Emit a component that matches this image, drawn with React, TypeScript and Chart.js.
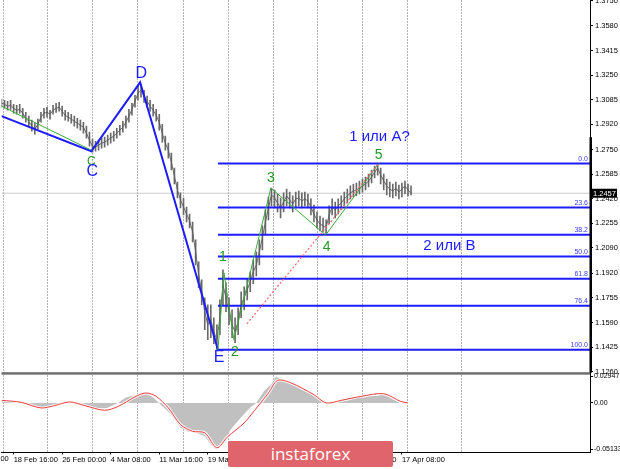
import React, { useEffect, useRef } from "react";
import { Chart, registerables } from "chart.js";
Chart.register(...registerables);

Chart.defaults.font.family = "'Liberation Sans', Arial, sans-serif";

// ---- price data (H4 bars, one sample every 2 bars) ----
const BAR_STEP = 2;
const X_MAX = 388;
const closes = [
  1.3061, 1.3054, 1.3041, 1.3047, 1.3027, 1.3014, 1.3020, 1.2994, 1.2960, 1.2940,
  1.2907, 1.2887, 1.2920, 1.2967, 1.2994, 1.3000, 1.2987, 1.3014, 1.3027, 1.3034,
  1.3007, 1.2980, 1.2967, 1.2954, 1.2940, 1.2927, 1.2913, 1.2900, 1.2860, 1.2813,
  1.2773, 1.2766, 1.2780, 1.2793, 1.2800, 1.2813, 1.2827, 1.2840, 1.2860, 1.2880,
  1.2900, 1.2933, 1.2974, 1.3020, 1.3074, 1.3128, 1.3148, 1.3108, 1.3074, 1.3041,
  1.3014, 1.2980, 1.2933, 1.2860, 1.2793, 1.2746, 1.2666, 1.2572, 1.2479, 1.2412,
  1.2365, 1.2318, 1.2271, 1.2198, 1.2064, 1.1910, 1.1796, 1.1662, 1.1575, 1.1608,
  1.1528, 1.1474, 1.1622, 1.1843, 1.1756, 1.1662, 1.1575, 1.1528, 1.1595, 1.1709,
  1.1756, 1.1809, 1.1863, 1.1930, 1.1976, 1.2064, 1.2158, 1.2264, 1.2358, 1.2445,
  1.2425, 1.2392, 1.2358, 1.2398, 1.2439, 1.2412, 1.2385, 1.2419, 1.2425, 1.2405,
  1.2419, 1.2405, 1.2365, 1.2318, 1.2278, 1.2251, 1.2238, 1.2224, 1.2311, 1.2365,
  1.2345, 1.2372, 1.2392, 1.2419, 1.2439, 1.2459, 1.2472, 1.2479, 1.2492, 1.2506,
  1.2519, 1.2539, 1.2566, 1.2599, 1.2626, 1.2579, 1.2539, 1.2506, 1.2485, 1.2472,
  1.2492, 1.2465, 1.2485, 1.2506, 1.2479, 1.2457,
];
const highs = [
  1.3088, 1.3081, 1.3074, 1.3081, 1.3054, 1.3047, 1.3054, 1.3027, 1.3000, 1.2974,
  1.2947, 1.2927, 1.2954, 1.3000, 1.3027, 1.3034, 1.3014, 1.3047, 1.3061, 1.3067,
  1.3041, 1.3014, 1.3000, 1.2987, 1.2974, 1.2960, 1.2947, 1.2933, 1.2907, 1.2867,
  1.2820, 1.2806, 1.2813, 1.2827, 1.2833, 1.2847, 1.2860, 1.2873, 1.2893, 1.2913,
  1.2940, 1.2974, 1.3020, 1.3061, 1.3114, 1.3175, 1.3188, 1.3148, 1.3108, 1.3081,
  1.3054, 1.3020, 1.2987, 1.2920, 1.2840, 1.2793, 1.2726, 1.2626, 1.2532, 1.2459,
  1.2425, 1.2365, 1.2318, 1.2264, 1.2144, 1.1997, 1.1876, 1.1756, 1.1709, 1.1709,
  1.1622, 1.1575, 1.1742, 1.1943, 1.1856, 1.1756, 1.1675, 1.1622, 1.1689, 1.1796,
  1.1829, 1.1883, 1.1930, 1.2010, 1.2064, 1.2144, 1.2238, 1.2345, 1.2432, 1.2492,
  1.2479, 1.2452, 1.2425, 1.2459, 1.2485, 1.2465, 1.2439, 1.2465, 1.2472, 1.2459,
  1.2465, 1.2452, 1.2419, 1.2378, 1.2331, 1.2304, 1.2291, 1.2278, 1.2372, 1.2419,
  1.2398, 1.2419, 1.2439, 1.2465, 1.2485, 1.2506, 1.2519, 1.2526, 1.2539, 1.2552,
  1.2566, 1.2586, 1.2613, 1.2640, 1.2656, 1.2626, 1.2586, 1.2552, 1.2532, 1.2519,
  1.2532, 1.2512, 1.2526, 1.2539, 1.2519, 1.2506,
];
const lows = [
  1.3034, 1.3027, 1.3014, 1.3020, 1.2994, 1.2987, 1.2994, 1.2960, 1.2933, 1.2907,
  1.2873, 1.2853, 1.2887, 1.2933, 1.2960, 1.2967, 1.2954, 1.2987, 1.3000, 1.3007,
  1.2974, 1.2947, 1.2940, 1.2927, 1.2907, 1.2893, 1.2880, 1.2860, 1.2827, 1.2773,
  1.2733, 1.2739, 1.2746, 1.2760, 1.2766, 1.2780, 1.2793, 1.2806, 1.2827, 1.2847,
  1.2867, 1.2893, 1.2933, 1.2980, 1.3034, 1.3081, 1.3101, 1.3067, 1.3034, 1.3007,
  1.2974, 1.2940, 1.2880, 1.2800, 1.2746, 1.2693, 1.2613, 1.2519, 1.2425, 1.2358,
  1.2311, 1.2264, 1.2224, 1.2131, 1.1976, 1.1823, 1.1709, 1.1541, 1.1474, 1.1488,
  1.1448, 1.1410, 1.1508, 1.1709, 1.1662, 1.1575, 1.1488, 1.1454, 1.1508, 1.1622,
  1.1675, 1.1742, 1.1796, 1.1850, 1.1903, 1.1976, 1.2077, 1.2178, 1.2278, 1.2372,
  1.2358, 1.2331, 1.2291, 1.2331, 1.2372, 1.2358, 1.2331, 1.2365, 1.2372, 1.2358,
  1.2372, 1.2358, 1.2311, 1.2264, 1.2224, 1.2204, 1.2198, 1.2184, 1.2251, 1.2311,
  1.2291, 1.2318, 1.2345, 1.2372, 1.2392, 1.2419, 1.2432, 1.2439, 1.2452, 1.2465,
  1.2479, 1.2499, 1.2526, 1.2559, 1.2579, 1.2519, 1.2479, 1.2445, 1.2432, 1.2425,
  1.2439, 1.2419, 1.2432, 1.2452, 1.2439, 1.2445,
];
const currentPrice = 1.2457;
const axisMarkTop = 1.2833;

// ---- axes ----
const priceMin = 1.12533;
const priceMax = 1.375;
const priceTicks = [1.1260, 1.1425, 1.1590, 1.1755, 1.1920, 1.2090, 1.2255, 1.2420,
  1.2585, 1.2750, 1.2920, 1.3085, 1.3250, 1.3415, 1.3580, 1.3750];
const timeTickBars = [8, 40, 72, 104, 136, 168, 200, 232, 264];
const timeTickLabels = ["18 Feb 16:00", "26 Feb 00:00", "4 Mar 08:00", "11 Mar 16:00",
  "19 Mar 00:00", "26 Mar 08:00", "2 Apr 16:00", "10 Apr 00:00", "17 Apr 08:00"];
const prevTimeBar = -24;
const prevTimeLabel = "11 Feb 08:00";
const gridBars = [1.1, 30.1, 59.6, 89.4, 119.5, 149.1, 178.7, 208.3, 237.9, 267.5, 303.0];

// ---- Fibonacci ----
const fibStartBar = 142.7;
const fibLevels = [1.2656, 1.2361, 1.2179, 1.2032, 1.1884, 1.1702, 1.1407];
const fibLabels = ["0.0", "23.6", "38.2", "50.0", "61.8", "76.4", "100.0"];

// ---- wave markup ----
const blueWaveX = [0, 59.2, 91.4, 142.7];
const blueWaveY = [1.2974, 1.2739, 1.3201, 1.1407];
const greenLeftX = [0, 59.2];
const greenLeftY = [1.3041, 1.2746];
const greenWaveX = [142.7, 146.7, 153.2, 177.6, 213.7, 248.6];
const greenWaveY = [1.1407, 1.1923, 1.1474, 1.2492, 1.2177, 1.2656];
const redDotX = [161.8, 248.6];
const redDotY = [1.1581, 1.2656];

const waveLabelText = ["D", "C", "C", "E", "1", "2", "3", "4", "5", "1 или A?", "2 или B"];
const waveLabelX = [92.1, 59.2, 59.8, 143.4, 146.0, 153.9, 177.6, 214.4, 248.6, 249.2, 295.3];
const waveLabelY = [1.3261, 1.2672, 1.2605, 1.1354, 1.2030, 1.1394, 1.2559, 1.2097, 1.2713, 1.2833, 1.2103];
const waveLabelColor = ["#1c1cff", "#229922", "#1c1cff", "#1c1cff", "#229922", "#229922",
  "#229922", "#229922", "#229922", "#1c1cff", "#1c1cff"];
const waveLabelSize = [16, 12, 16, 16, 14, 14, 14, 14, 14, 15, 15];

// ---- oscillator ----
const oscMin = -0.0552;
const oscMax = 0.0337;
const oscTicks = [0.02947, 0, -0.05133];
const oscTickLabels = ["0.02947", "0.00", "-0.05133"];
const histBars = [0, 13, 23, 30, 36, 43, 53, 62, 69, 76, 82, 91, 95, 100, 105, 112, 118, 123, 128, 134,
  138, 141, 146, 151, 158, 164, 168, 173, 178, 181, 187, 197, 205, 209, 212, 219, 227, 237, 247, 253,
  258, 263, 268];
const histValues = [0.0027, 0.0, -0.005, -0.005, -0.002, 0.001, -0.003, -0.006, -0.006, -0.001,
  0.006, 0.010, 0.011, 0.006, -0.002, -0.013, -0.028, -0.032, -0.033, -0.037,
  -0.046, -0.0513, -0.045, -0.030, -0.016, -0.005, 0.0, 0.013, 0.021, 0.0295,
  0.024, 0.017, 0.010, 0.004, 0.0, 0.001, 0.004, 0.007, 0.008, 0.009,
  0.004, 0.0, 0.0];
const signalBars = [0, 13, 26, 35, 45, 55, 68, 77, 88, 95, 102, 110, 118, 126, 134, 142, 149, 160,
  169, 176, 182, 191, 206, 214, 224, 237, 252, 263, 268];
const signalValues = [0.0029, 0.0007, -0.0056, -0.0030, 0.0011, -0.0030, -0.0082, -0.0038, 0.0067,
  0.0111, 0.0073, -0.0056, -0.0241, -0.0316, -0.0333, -0.0500, -0.0378, -0.0222, -0.0038,
  0.0111, 0.0251, 0.0222, 0.0092, 0.0000, 0.0029, 0.0073, 0.0103, 0.0018, 0.0000];

const BAR_COLOR = "#6a6a6a";
const CLOSE_COLOR = "#5a5a5a";
const FIB_COLOR = "#1c1cff";

const pts = (xs: number[], ys: number[]) => xs.map((x, i) => ({ x, y: ys[i] }));

const overlayPlugin = {
  id: "overlay",
  beforeDatasetsDraw(chart: any) {
    const { ctx, chartArea, scales } = chart;
    ctx.save();
    ctx.strokeStyle = "#666666";
    ctx.lineWidth = 1;
    ctx.setLineDash([1, 2]);
    gridBars.forEach((b) => {
      const px = Math.round(scales.x.getPixelForValue(b)) + 0.5;
      ctx.beginPath();
      ctx.moveTo(px, chartArea.top);
      ctx.lineTo(px, chartArea.bottom);
      ctx.stroke();
    });
    ctx.restore();
  },
  afterDatasetsDraw(chart: any) {
    const { ctx, chartArea, scales } = chart;
    const x = scales.x;
    const y = scales.y;
    ctx.save();
    ctx.font = "7px 'Liberation Sans'";
    ctx.fillStyle = "#3b3bff";
    ctx.textAlign = "right";
    ctx.textBaseline = "bottom";
    fibLevels.forEach((lv, i) => {
      ctx.fillText(fibLabels[i], chartArea.right - 2, y.getPixelForValue(lv) - 1);
    });
    ctx.textAlign = "center";
    ctx.textBaseline = "middle";
    waveLabelText.forEach((t, i) => {
      ctx.font = `${waveLabelSize[i]}px 'Liberation Sans'`;
      ctx.fillStyle = waveLabelColor[i];
      ctx.fillText(t, x.getPixelForValue(waveLabelX[i]), y.getPixelForValue(waveLabelY[i]));
    });
    ctx.restore();
  },
  afterDraw(chart: any) {
    const { ctx, chartArea, scales } = chart;
    const x = scales.x;
    const y = scales.y;
    const y2 = scales.y2;
    ctx.save();
    ctx.fillStyle = "#6f6f6f";
    ctx.fillRect(chartArea.left, y2.top - 0.5, chartArea.right - chartArea.left, 2.5);
    ctx.fillStyle = "#000";
    const t = y.getPixelForValue(axisMarkTop);
    ctx.fillRect(chartArea.right - 0.5, t, 2.5, y.bottom - t);
    const py = y.getPixelForValue(currentPrice);
    ctx.fillRect(chartArea.right + 1, py - 4.5, 26, 9);
    ctx.fillStyle = "#fff";
    ctx.font = "7.5px 'Liberation Sans'";
    ctx.textAlign = "left";
    ctx.textBaseline = "middle";
    ctx.fillText(currentPrice.toFixed(4), chartArea.right + 3, py + 0.5);
    ctx.fillStyle = "#000";
    ctx.textBaseline = "top";
    ctx.fillText(prevTimeLabel, x.getPixelForValue(prevTimeBar), x.top + 3);
    ctx.restore();
  },
};

export default function App() {
  const wrapRef = useRef<HTMLDivElement>(null);
  const canvasRef = useRef<HTMLCanvasElement>(null);

  useEffect(() => {
    if (!canvasRef.current) return;
    const lineDs = (data: any[], color: string, width: number, order: number, extra: any = {}) => ({
      type: "line",
      data,
      borderColor: color,
      borderWidth: width,
      pointRadius: 0,
      tension: 0,
      fill: false,
      yAxisID: "y",
      order,
      ...extra,
    });

    const datasets: any[] = [
      lineDs([{ x: 0, y: currentPrice }, { x: X_MAX, y: currentPrice }], "#cccccc", 1, 20),
      {
        type: "bar",
        data: closes.map((_, i) => ({ x: i * BAR_STEP, y: [lows[i], highs[i]] })),
        backgroundColor: BAR_COLOR,
        barThickness: 1,
        grouped: false,
        yAxisID: "y",
        order: 15,
      },
      lineDs(closes.map((c, i) => ({ x: i * BAR_STEP, y: c })), CLOSE_COLOR, 0.9, 14),
      ...fibLevels.map((lv) => lineDs([{ x: fibStartBar, y: lv }, { x: X_MAX, y: lv }], FIB_COLOR, 2, 6)),
      lineDs(pts(blueWaveX, blueWaveY), FIB_COLOR, 2, 5),
      lineDs(pts(greenLeftX, greenLeftY), "#3aa83a", 1, 4),
      lineDs(pts(greenWaveX, greenWaveY), "#3aa83a", 1, 4),
      lineDs(pts(redDotX, redDotY), "#ff6a6a", 1.2, 3, { borderDash: [2, 2] }),
      lineDs(pts(histBars, histValues), "rgba(0,0,0,0)", 0, 12, {
        yAxisID: "y2",
        fill: "origin",
        backgroundColor: "#c0c0c0",
      }),
      lineDs(pts(signalBars, signalValues), "rgba(255,255,255,0.85)", 3, 11, { yAxisID: "y2", tension: 0.3 }),
      lineDs(pts(signalBars, signalValues), "#f03a3a", 1, 10, { yAxisID: "y2", tension: 0.3 }),
    ];

    const chart = new Chart(canvasRef.current, {
      type: "line",
      data: { datasets },
      plugins: [overlayPlugin],
      options: {
        animation: false,
        responsive: true,
        maintainAspectRatio: false,
        layout: { padding: { left: 0, right: 0, top: 0, bottom: 4 } },
        plugins: { legend: { display: false }, tooltip: { enabled: false } },
        scales: {
          x: {
            type: "linear",
            min: 0,
            max: X_MAX,
            offset: false,
            position: "bottom",
            afterBuildTicks: (s: any) => {
              s.ticks = timeTickBars.map((v) => ({ value: v }));
            },
            ticks: {
              autoSkip: false,
              maxRotation: 0,
              minRotation: 0,
              align: "start",
              padding: 1,
              color: "#000",
              font: { size: 7.5 },
              callback: (v: any) => {
                const k = timeTickBars.indexOf(Number(v));
                return k >= 0 ? timeTickLabels[k] : "";
              },
            },
            grid: { drawOnChartArea: false, drawTicks: true, tickLength: 2, color: "#000", offset: false },
            border: { display: true, color: "#000", width: 1 },
          },
          y: {
            type: "linear",
            position: "right",
            stack: "panes",
            stackWeight: 373,
            min: priceMin,
            max: priceMax,
            afterFit: (s: any) => {
              s.width = 30;
            },
            afterBuildTicks: (s: any) => {
              s.ticks = priceTicks.map((v) => ({ value: v }));
            },
            ticks: {
              autoSkip: false,
              color: "#000",
              padding: 2,
              font: { size: 7.5 },
              callback: (v: any) => Number(v).toFixed(4),
            },
            grid: { drawOnChartArea: false, drawTicks: true, tickLength: 3, color: "#000" },
            border: { display: true, color: "#000", width: 1 },
          },
          y2: {
            type: "linear",
            position: "right",
            stack: "panes",
            stackWeight: 80,
            min: oscMin,
            max: oscMax,
            afterFit: (s: any) => {
              s.width = 30;
            },
            afterBuildTicks: (s: any) => {
              s.ticks = oscTicks.map((v) => ({ value: v }));
            },
            ticks: {
              autoSkip: false,
              color: "#000",
              padding: 1,
              font: { size: 7 },
              callback: (_v: any, i: number) => oscTickLabels[i],
            },
            grid: { drawOnChartArea: false, drawTicks: true, tickLength: 3, color: "#000" },
            border: { display: true, color: "#000", width: 1 },
          },
        },
      } as any,
    } as any);

    const top = chart.chartArea ? chart.chartArea.top : 0;
    if (top > 0 && wrapRef.current) {
      wrapRef.current.style.top = `${-top}px`;
      wrapRef.current.style.height = `${469 + top}px`;
      chart.resize();
    }
    return () => chart.destroy();
  }, []);

  return (
    <div style={{ position: "absolute", left: 0, top: 0, width: 620, height: 469, overflow: "hidden", background: "#fff" }}>
      <div ref={wrapRef} style={{ position: "absolute", left: 0, top: 0, width: 620, height: 469 }}>
        <canvas ref={canvasRef} />
      </div>
      <div
        style={{
          position: "absolute",
          left: 228,
          top: 441,
          width: 165,
          height: 26,
          background: "#e0646b",
          borderRadius: 2,
          color: "#fff",
          fontFamily: "'Open Sans', sans-serif",
          fontSize: 17,
          lineHeight: "26px",
          textAlign: "center",
        }}
      >
        instaforex
      </div>
    </div>
  );
}
